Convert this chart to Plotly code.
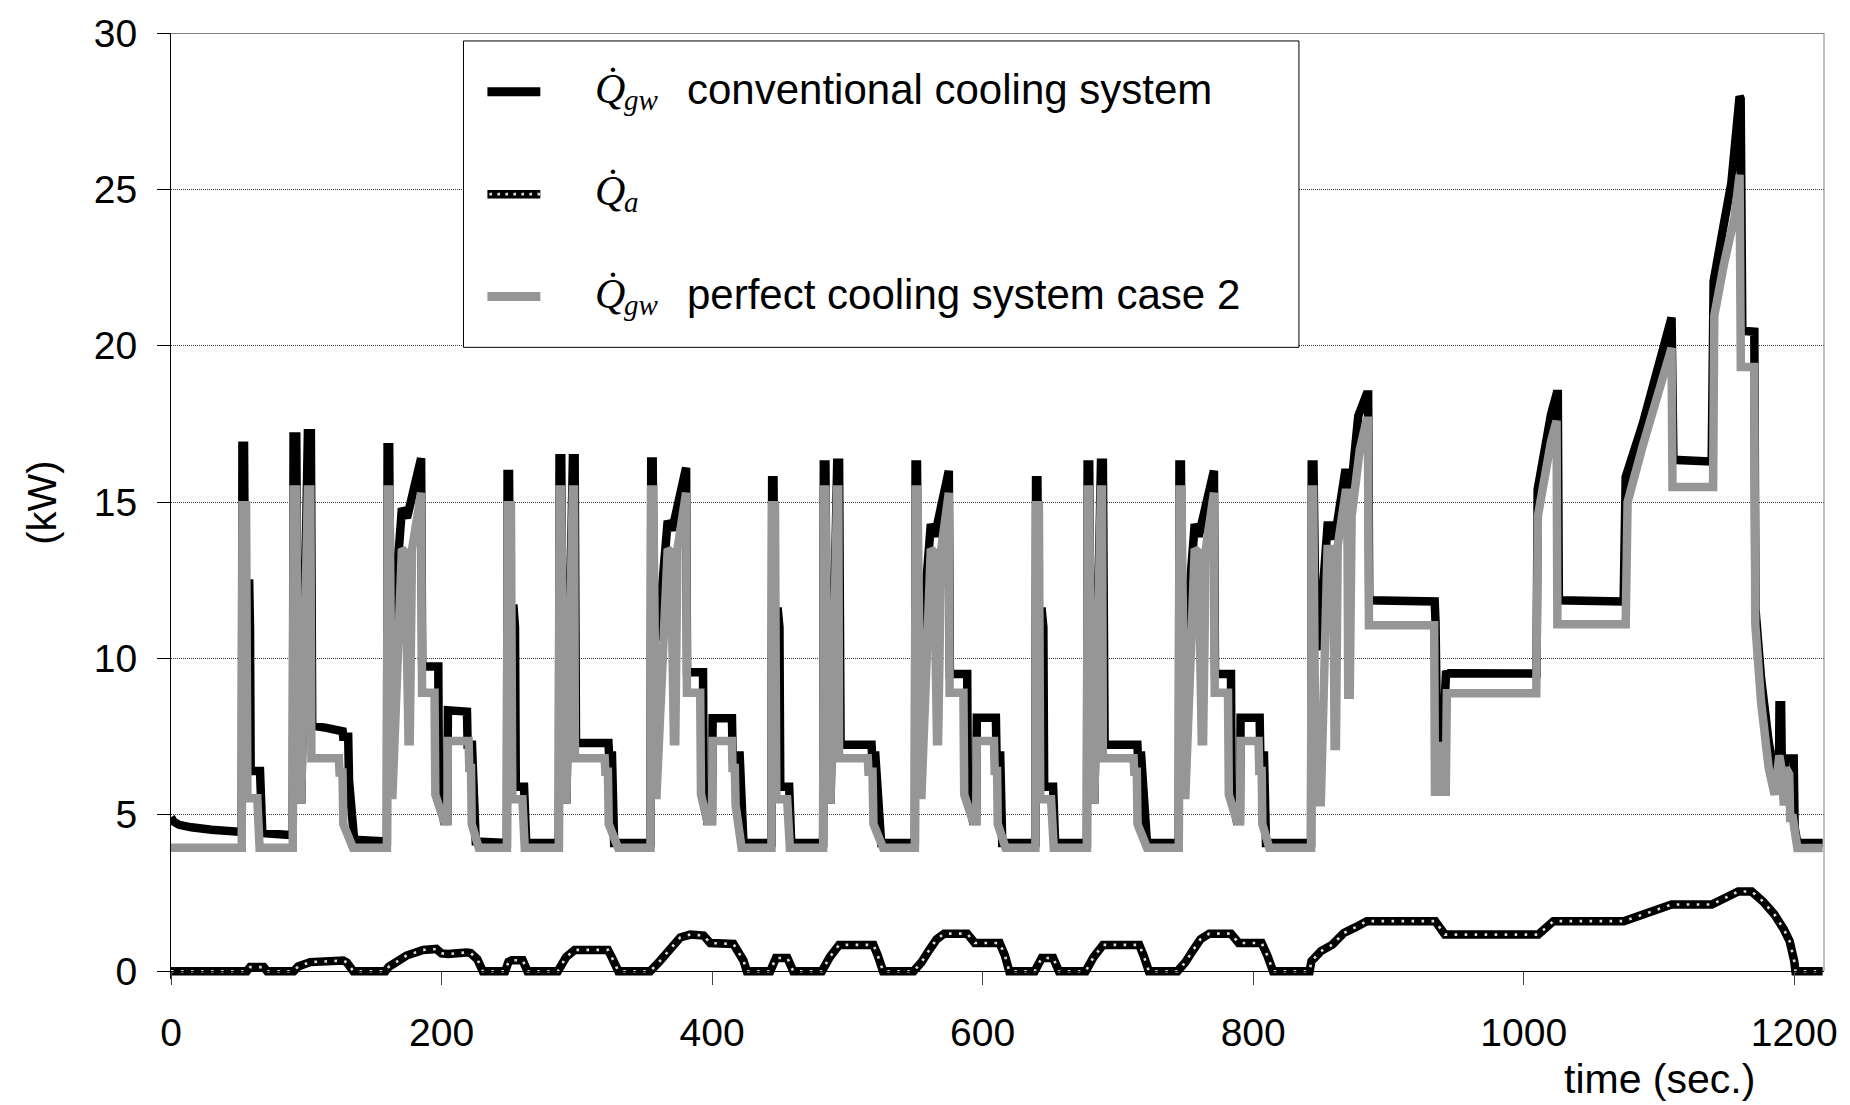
import plotly.graph_objects as go

# ---------------- data (time [s], heat flow [kW]) ----------------
# Q_gw, conventional cooling system (black)
conv_ece1 = [(0, 4.92), (2, 4.78), (6, 4.68), (15, 4.6), (30, 4.52), (52.3, 4.45),
             (52.8, 16.8), (54.0, 16.8), (54.6, 12.4), (57.8, 12.4), (58.4, 11.0), (58.9, 6.4),
             (65.8, 6.4), (67.5, 4.42), (90.0, 4.35),
             (90.6, 17.1), (92.6, 17.1), (94.3, 5.5), (96.3, 5.5), (101.2, 17.2), (103.4, 17.2),
             (104.4, 7.85), (115, 7.78), (126.9, 7.67), (127.3, 7.5), (131.0, 7.5), (131.6, 6.1),
             (135.4, 4.2), (159.6, 4.15),
             (160.1, 16.75), (161.3, 16.75), (162.3, 10.9), (164.0, 10.9), (170.7, 14.8),
             (174.5, 14.5), (184.9, 16.4), (185.7, 9.74), (197.6, 9.74), (198.1, 5.65), (201.8, 4.8),
             (204.2, 4.8), (204.7, 8.34), (218.8, 8.3), (219.3, 7.24), (222.5, 7.24), (225.3, 4.15),
             (248.3, 4.1)]
conv_ece2 = [(248.8, 15.9), (249.9, 15.9), (250.6, 11.6), (253.3, 11.6), (254.3, 11.0), (254.9, 5.9),
             (261.0, 5.9), (262.6, 4.1), (286.7, 4.1),
             (287.2, 16.4), (288.5, 16.4), (290.3, 5.5), (292.3, 5.5), (297.1, 16.4), (298.4, 16.4),
             (299.4, 7.3), (323.4, 7.3), (323.9, 6.9), (326.0, 6.9), (327.6, 4.1), (354.5, 4.1),
             (355.0, 16.3), (356.1, 16.3), (357.1, 10.7), (360.0, 10.7), (367.2, 14.4), (370.5, 14.1),
             (380.8, 16.1), (381.5, 9.56), (393.3, 9.56), (393.8, 5.65), (396.4, 4.8), (399.9, 4.8),
             (400.4, 8.09), (414.7, 8.09), (415.2, 6.9), (420.4, 6.9), (423.2, 4.1), (443.9, 4.1)]
conv_ece3 = [(444.4, 15.7), (445.4, 15.7), (446.1, 11.5), (448.7, 11.5), (449.8, 11.0), (450.4, 5.9),
             (457.0, 5.9), (458.5, 4.1), (482.1, 4.1),
             (482.6, 16.2), (483.8, 16.2), (485.6, 5.5), (487.6, 5.5), (492.5, 16.26), (493.9, 16.26),
             (495.0, 7.24), (517.9, 7.24), (518.3, 6.9), (520.7, 6.9), (525.0, 4.1), (549.9, 4.1),
             (550.4, 16.2), (551.5, 16.2), (552.5, 10.65), (555.2, 10.65), (561.7, 14.3), (564.6, 13.9),
             (575.0, 16.0), (575.8, 9.5), (588.6, 9.5), (589.1, 5.65), (592.8, 4.8), (595.2, 4.8),
             (595.7, 8.1), (609.8, 8.1), (610.3, 6.9), (613.0, 6.9), (614.5, 4.1), (639.0, 4.1)]
conv_ece4 = [(639.5, 15.7), (640.5, 15.7), (641.2, 11.5), (643.8, 11.5), (644.9, 11.0), (645.5, 5.9),
             (652.1, 5.9), (653.6, 4.1), (677.1, 4.1),
             (677.6, 16.2), (678.8, 16.2), (680.6, 5.5), (682.6, 5.5), (687.5, 16.26), (688.9, 16.26),
             (690.2, 7.24), (714.4, 7.24), (714.8, 6.9), (717.2, 6.9), (721.5, 4.1), (745.0, 4.1),
             (745.5, 16.2), (746.6, 16.2), (747.6, 10.65), (750.3, 10.65), (756.8, 14.3), (759.7, 13.9),
             (771.0, 16.0), (771.8, 9.5), (783.6, 9.5), (784.1, 5.65), (787.9, 4.8), (790.2, 4.8),
             (790.7, 8.1), (804.8, 8.1), (805.3, 6.9), (808.0, 6.9), (809.5, 4.1), (842.8, 4.1)]
conv_eudc = [(843.3, 16.2), (844.6, 16.2), (846.3, 10.4), (848.3, 10.3), (855.0, 14.25), (858.8, 14.25),
             (860.4, 13.8), (862.0, 14.3), (868.3, 16.05), (871.0, 15.4), (872.8, 15.6), (877.7, 17.75),
             (883.8, 18.44), (885.0, 18.44), (885.8, 11.86), (934.2, 11.82), (934.8, 11.2), (935.6, 8.7),
             (938.0, 8.6), (939.5, 6.4), (942.6, 9.6), (943.5, 9.53), (1009.5, 9.52), (1010.3, 15.4),
             (1020.2, 17.8), (1024.3, 18.46), (1025.2, 18.46), (1026.0, 11.86), (1072.5, 11.82),
             (1073.9, 11.9), (1075.4, 15.8), (1088.0, 17.5), (1109.3, 20.9), (1110.7, 16.35),
             (1137.6, 16.3), (1139.0, 16.4), (1140.4, 22.06), (1148.0, 23.9), (1153.5, 25.2),
             (1159.6, 27.97), (1160.4, 27.9), (1161.6, 20.48), (1170.5, 20.45), (1171.3, 11.6),
             (1175.5, 9.36), (1181.1, 7.34), (1185.4, 6.28), (1188.6, 5.85), (1189.1, 8.5), (1190.3, 8.5),
             (1191.0, 5.8), (1192.8, 5.9), (1193.3, 6.8), (1199.6, 6.8), (1200.3, 4.6), (1202.3, 4.1),
             (1221, 4.1)]

# Q_gw, perfect cooling system case 2 (grey)
perf_ece1 = [(0, 3.95), (52.3, 3.95), (52.8, 14.9), (55.5, 14.9), (56.5, 5.53), (63.8, 5.53),
             (65.5, 3.95), (90.0, 3.95),
             (90.6, 15.4), (92.6, 15.4), (94.3, 5.5), (96.3, 5.5), (101.2, 15.4), (103.0, 15.4),
             (103.8, 6.81), (124.1, 6.81), (124.6, 6.35), (126.8, 6.35), (127.4, 4.7), (134.5, 3.95),
             (159.6, 3.95),
             (160.1, 15.4), (161.5, 15.4), (163.6, 5.5), (170.7, 13.5), (173.2, 13.4), (175.6, 7.35),
             (176.5, 7.35), (178.2, 13.5), (184.9, 15.3), (185.6, 8.9), (194.8, 8.9), (195.4, 5.65),
             (201.8, 4.8), (204.2, 4.8), (204.7, 7.36), (220.0, 7.36), (220.5, 6.5), (221.8, 6.5),
             (222.3, 4.7), (227.5, 3.95), (248.3, 3.95)]
perf_ece2 = [(248.8, 14.9), (251.3, 14.9), (252.3, 5.5), (259.8, 5.5), (261.5, 3.95), (286.7, 3.95),
             (287.2, 15.4), (288.5, 15.4), (290.3, 5.5), (292.3, 5.5), (297.1, 15.4), (298.0, 15.4),
             (298.6, 6.81), (320.6, 6.81), (321.1, 6.38), (323.0, 6.38), (323.6, 4.7), (330.5, 3.95),
             (354.5, 3.95),
             (355.0, 15.4), (356.5, 15.4), (358.8, 5.5), (367.2, 13.5), (369.6, 13.4), (371.8, 7.35),
             (372.8, 7.35), (374.4, 13.5), (380.8, 15.3), (381.4, 8.9), (391.2, 8.9), (391.8, 5.65),
             (396.4, 4.8), (399.9, 4.8), (400.4, 7.36), (414.7, 7.36), (415.1, 6.5), (416.8, 6.5),
             (417.4, 5.3), (421.8, 3.95), (443.9, 3.95)]
perf_ece3 = [(444.4, 14.9), (446.5, 14.9), (447.5, 5.5), (455.5, 5.5), (457.5, 3.95), (482.1, 3.95),
             (482.6, 15.4), (483.8, 15.4), (485.6, 5.5), (487.6, 5.5), (492.5, 15.4), (493.3, 15.4),
             (493.9, 6.81), (515.1, 6.81), (515.6, 6.38), (518.6, 6.38), (519.3, 4.7), (526.4, 3.95),
             (549.9, 3.95),
             (550.4, 15.4), (551.8, 15.4), (554.7, 5.5), (561.7, 13.5), (564.0, 13.4), (566.3, 7.35),
             (567.1, 7.35), (569.4, 13.5), (575.0, 15.3), (575.6, 8.9), (585.8, 8.9), (586.4, 5.65),
             (592.8, 4.8), (595.2, 4.8), (595.7, 7.36), (608.4, 7.36), (608.9, 6.4), (610.7, 6.4),
             (611.2, 4.7), (616.9, 3.95), (639.0, 3.95)]
perf_ece4 = [(639.5, 14.9), (641.6, 14.9), (642.6, 5.5), (650.6, 5.5), (652.6, 3.95), (677.1, 3.95),
             (677.6, 15.4), (678.8, 15.4), (680.6, 5.5), (682.6, 5.5), (687.5, 15.4), (688.3, 15.4),
             (688.9, 6.81), (711.6, 6.81), (712.1, 6.38), (714.0, 6.38), (714.5, 4.7), (721.5, 3.95),
             (745.0, 3.95),
             (745.5, 15.4), (746.9, 15.4), (749.8, 5.5), (756.8, 13.5), (759.5, 13.4), (762.0, 7.35),
             (763.0, 7.35), (765.0, 13.5), (771.0, 15.3), (771.6, 8.9), (781.4, 8.9), (782.0, 5.65),
             (787.9, 4.8), (790.2, 4.8), (790.7, 7.36), (804.0, 7.36), (804.5, 6.4), (806.3, 6.4),
             (806.8, 4.7), (811.9, 3.95), (842.8, 3.95)]
perf_eudc = [(843.2, 15.4), (844.4, 15.4), (846.2, 5.4), (850.0, 5.4), (855.0, 13.5), (859.3, 13.5),
             (860.2, 7.2), (861.2, 7.2), (862.5, 13.6), (868.3, 15.3), (869.6, 15.3), (870.3, 8.84),
             (871.4, 8.84), (872.8, 14.56), (878.9, 16.7), (883.8, 17.6), (884.8, 17.6), (885.6, 11.06),
             (933.8, 11.06), (934.4, 5.74), (936.3, 5.74), (937.2, 7.2), (938.6, 7.2), (939.4, 5.74),
             (942.4, 5.74), (943.2, 8.89), (1009.3, 8.89), (1010.5, 14.56), (1020.2, 16.94),
             (1024.3, 17.6), (1024.9, 11.09), (1075.4, 11.09), (1076.8, 15.0), (1088.0, 16.8),
             (1109.3, 19.93), (1110.0, 15.48), (1140.0, 15.48), (1140.9, 20.96), (1148.0, 22.6),
             (1155.9, 24.13), (1159.6, 25.47), (1160.5, 19.32), (1170.4, 19.32), (1171.2, 11.1),
             (1175.5, 8.6), (1181.1, 6.5), (1185.5, 5.64), (1189.0, 6.9), (1190.5, 6.5), (1192.3, 5.3),
             (1193.8, 6.5), (1196.3, 6.3), (1197.0, 4.9), (1199.0, 4.9), (1202.3, 3.94), (1221, 3.94)]

# Q_a (dotted)
qa_ece1 = [(0, 0), (56, 0), (58.5, 0.13), (68.5, 0.13), (71, 0), (90.7, 0), (94, 0.15), (102.9, 0.29),
           (127.4, 0.34), (130, 0.28), (134.8, 0), (158.5, 0), (161, 0.14), (174.1, 0.5), (186.4, 0.68),
           (196.2, 0.71), (200, 0.57), (204.8, 0.55), (218.4, 0.6), (221.5, 0.58), (226.5, 0.38),
           (230.5, 0)]
qa_ece2 = [(247, 0), (249.5, 0.3), (252, 0.35), (260, 0.35), (263.5, 0), (286, 0), (292.1, 0.45),
           (298.4, 0.68), (323, 0.68), (325.8, 0.45), (330.7, 0), (354.3, 0), (361.7, 0.34),
           (369.1, 0.71), (376.5, 1.08), (383.9, 1.17), (393.7, 1.14), (398.6, 0.9), (415.8, 0.87),
           (423.2, 0.34), (425.7, 0)]
qa_ece3 = [(443, 0), (447.2, 0.42), (455.7, 0.42), (460, 0), (481.2, 0), (487, 0.45), (493.9, 0.84),
           (519.3, 0.84), (522.5, 0.5), (526.4, 0), (549, 0), (554.7, 0.28), (560.3, 0.66), (566, 1.02),
           (571.6, 1.2), (588.6, 1.2), (594.2, 0.9), (612.6, 0.9), (616.5, 0.5), (619.7, 0)]
qa_ece4 = [(638.5, 0), (643.7, 0.42), (652.2, 0.42), (656.4, 0), (676.2, 0), (682, 0.45), (689, 0.84),
           (715.8, 0.84), (719, 0.5), (722.9, 0), (744.1, 0), (749.8, 0.28), (755.4, 0.66), (761, 1.02),
           (767.5, 1.2), (783.6, 1.2), (789.3, 0.9), (806.3, 0.9), (810.5, 0.5), (814.7, 0)]
qa_eudc = [(841.7, 0), (843.1, 0.32), (850.1, 0.64), (858.6, 0.85), (867, 1.22), (875.5, 1.4), (884, 1.6),
           (934.6, 1.6), (941.7, 1.17), (1010.7, 1.17), (1022, 1.6), (1074, 1.6), (1109.3, 2.13),
           (1139, 2.13), (1158.6, 2.55), (1168.5, 2.55), (1176.9, 2.23), (1185.4, 1.81), (1192.4, 1.33),
           (1196.6, 0.96), (1200, 0.32), (1200.9, 0), (1221, 0)]

x_ticks = [0, 200, 400, 600, 800, 1000, 1200]
y_ticks = [0, 5, 10, 15, 20, 25, 30]
legend_symbols = ["Q\u0307", "Q\u0307", "Q\u0307"]
legend_subscripts = ["gw", "a", "gw"]
legend_labels = ["conventional cooling system", "", "perfect cooling system case 2"]


def join(*segments):
    t, v = [], []
    for seg in segments:
        for a, b in seg:
            t.append(a)
            v.append(b)
    return t, v


conv_t, conv_v = join(conv_ece1, conv_ece2, conv_ece3, conv_ece4, conv_eudc)
perf_t, perf_v = join(perf_ece1, perf_ece2, perf_ece3, perf_ece4, perf_eudc)
qa_t, qa_v = join(qa_ece1, qa_ece2, qa_ece3, qa_ece4, qa_eudc)

SANS = "Liberation Sans, Arial, sans-serif"
SERIF = "Liberation Serif, Times New Roman, serif"
GREY = "#969696"
DOT = "#dcdcdc"
LW = 8.5

fig = go.Figure()
fig.add_trace(go.Scatter(x=conv_t, y=conv_v, mode="lines", name="Q_gw conventional cooling system",
                         line=dict(color="black", width=LW, simplify=False), showlegend=False))
fig.add_trace(go.Scatter(x=qa_t, y=qa_v, mode="lines", name="Q_a",
                         line=dict(color="black", width=LW, simplify=False), showlegend=False))
fig.add_trace(go.Scatter(x=qa_t, y=qa_v, mode="lines", name="Q_a dots", hoverinfo="skip",
                         line=dict(color=DOT, width=2.6, dash="2.6px,7.4px", simplify=False),
                         showlegend=False))
fig.add_trace(go.Scatter(x=perf_t, y=perf_v, mode="lines", name="Q_gw perfect cooling system case 2",
                         line=dict(color=GREY, width=LW, simplify=False), showlegend=False))

# plot area: left 171 px, right 1827 px, top 28 px, bottom 979 px (y = -0.25)
L, R, T, B = 171, 23, 28, 126
PW, PH = 1850 - L - R, 1105 - T - B


def px(xp):
    return (xp - L) / PW


def py(yp):
    return (T + PH - yp) / PH


fig.update_layout(
    width=1850, height=1105, autosize=False,
    margin=dict(l=L, r=R, t=T, b=B, pad=0),
    paper_bgcolor="white", plot_bgcolor="white",
    font=dict(family=SANS, size=39, color="black"),
    showlegend=False,
    xaxis=dict(range=[0, 1222], tickvals=x_ticks, ticks="outside", ticklen=13, tickcolor="#444",
               tickwidth=1, showline=True, linecolor="black", linewidth=1, showgrid=False,
               zeroline=False, anchor="free", position=0.25 / 30.25, ticklabelstandoff=14,
               tickfont=dict(size=39)),
    yaxis=dict(range=[-0.25, 30], tickvals=y_ticks, ticks="outside", ticklen=13, tickcolor="black",
               tickwidth=1, showline=True, linecolor="black", linewidth=1, showgrid=True,
               gridcolor="#333", gridwidth=1, griddash="1px,1px", zeroline=False,
               ticklabelstandoff=12, tickfont=dict(size=39)),
)

shapes = [
    dict(type="line", xref="paper", yref="y", x0=0, x1=1, y0=30, y1=30,
         line=dict(color="black", width=1)),
    dict(type="line", xref="paper", yref="y", x0=1, x1=1, y0=0, y1=30,
         line=dict(color="#808080", width=1)),
    # legend box
    dict(type="rect", xref="paper", yref="paper", x0=px(464), x1=px(1301), y0=py(344), y1=py(36),
         line=dict(color="black", width=1), fillcolor="white", layer="above"),
]
rows = [87, 190, 293]
shapes.append(dict(type="line", xref="paper", yref="paper", x0=px(488), x1=px(541), y0=py(rows[0]),
                   y1=py(rows[0]), line=dict(color="black", width=9), layer="above"))
shapes.append(dict(type="line", xref="paper", yref="paper", x0=px(488), x1=px(541), y0=py(rows[1]),
                   y1=py(rows[1]), line=dict(color="black", width=LW), layer="above"))
shapes.append(dict(type="line", xref="paper", yref="paper", x0=px(490), x1=px(541), y0=py(rows[1]),
                   y1=py(rows[1]), line=dict(color=DOT, width=2.6, dash="2.6px,5.4px"), layer="above"))
shapes.append(dict(type="line", xref="paper", yref="paper", x0=px(488), x1=px(541), y0=py(rows[2]),
                   y1=py(rows[2]), line=dict(color=GREY, width=9), layer="above"))
fig.update_layout(shapes=shapes)

annotations = []
for r, sym, sub, lab in zip(rows, legend_symbols, legend_subscripts, legend_labels):
    annotations.append(dict(xref="paper", yref="paper", x=px(594), y=py(r - 3), xanchor="left",
                            yanchor="middle", text=sym, showarrow=False,
                            font=dict(family=SERIF, size=42, color="black", style="italic")))
    annotations.append(dict(xref="paper", yref="paper", x=px(623), y=py(r + 8), xanchor="left",
                            yanchor="middle", text=sub, showarrow=False,
                            font=dict(family=SERIF, size=29, color="black", style="italic")))
    if lab:
        annotations.append(dict(xref="paper", yref="paper", x=px(686), y=py(r - 2), xanchor="left",
                                yanchor="middle", text=lab, showarrow=False,
                                font=dict(family=SANS, size=42, color="black")))
annotations.append(dict(xref="paper", yref="paper", x=px(41), y=py(500), text="(kW)", textangle=-90,
                        showarrow=False, xanchor="center", yanchor="middle",
                        font=dict(family=SANS, size=40, color="black")))
annotations.append(dict(xref="paper", yref="paper", x=px(1662), y=py(1080), text="time (sec.)",
                        showarrow=False, xanchor="center", yanchor="middle",
                        font=dict(family=SANS, size=41, color="black")))
fig.update_layout(annotations=annotations)

fig.write_html("out.html", post_script="document.body.style.margin='0';")
